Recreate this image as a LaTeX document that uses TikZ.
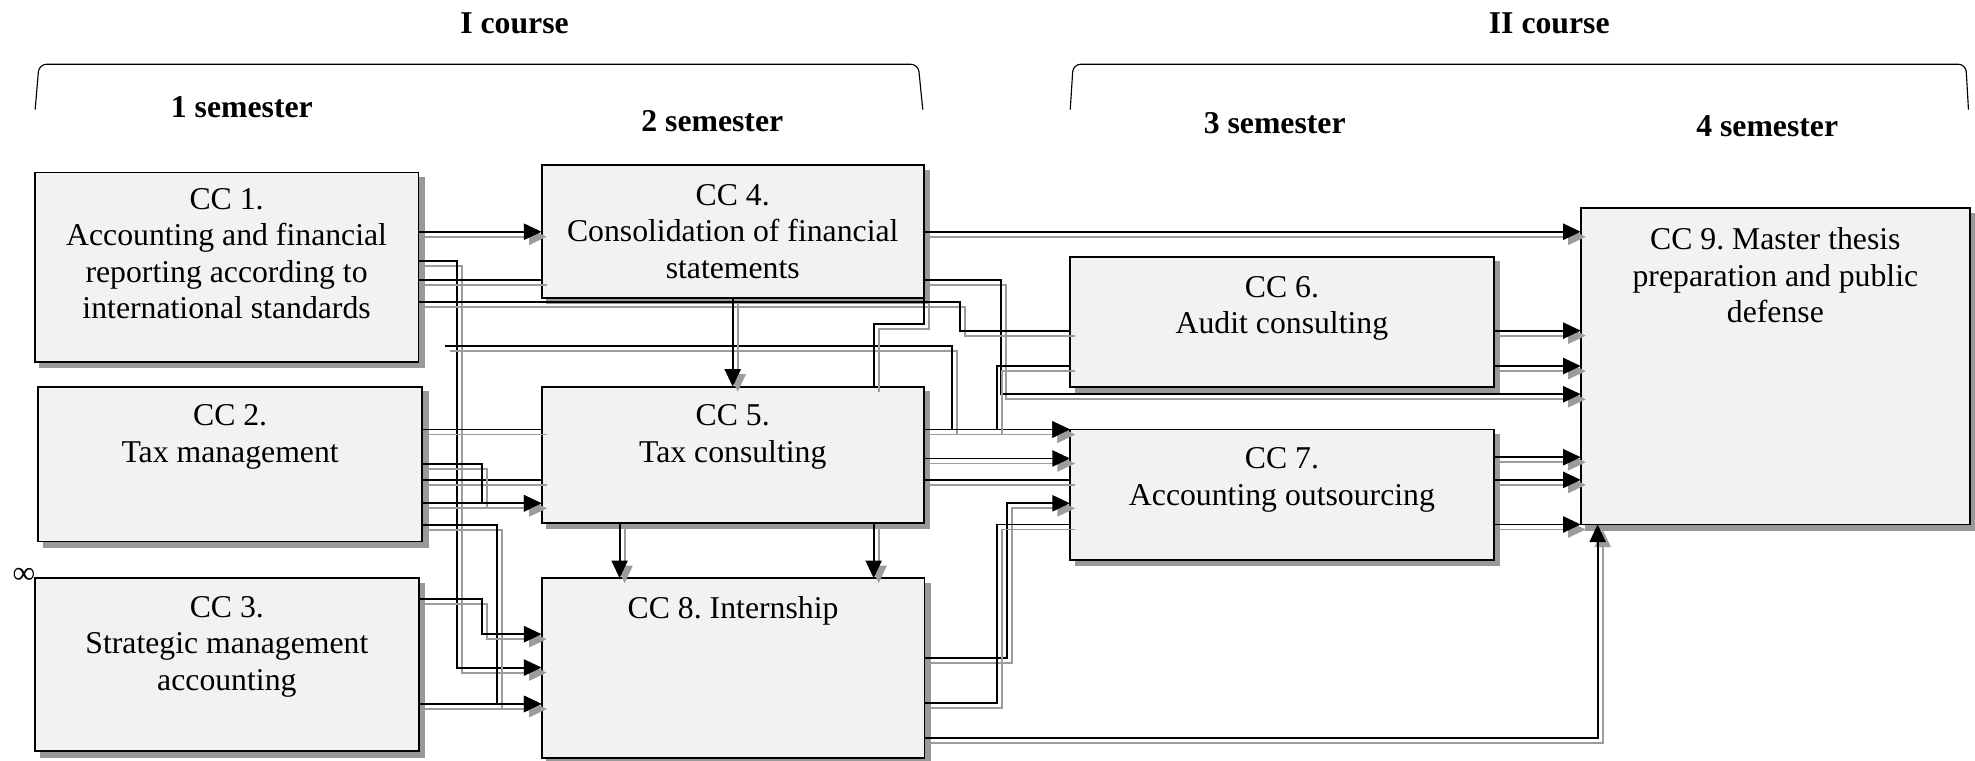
\documentclass[tikz,border=0pt]{standalone}
\usepackage{fontspec}
\setmainfont{Liberation Serif}
\usetikzlibrary{arrows.meta}
\definecolor{boxfill}{HTML}{F2F2F2}
\definecolor{boxshadow}{HTML}{999999}
\definecolor{lineshadow}{HTML}{9C9C9C}
\tikzset{
  ccbox/.style={draw=black, line width=0.7pt, fill=boxfill, inner sep=0pt, outer sep=0pt, anchor=north west,
     preaction={fill=boxshadow, draw=boxshadow, transform canvas={shift={(2.2pt,-2.2pt)}}}},
  cctext/.style={anchor=north, align=center, inner sep=0pt, font=\fontsize{12.6pt}{14.5pt}\selectfont\frenchspacing},
  head/.style={inner sep=0pt, font=\fontsize{12.6pt}{14.5pt}\selectfont\bfseries},
  conn/.style={draw=black, line width=0.75pt,
     preaction={draw=lineshadow, line width=0.75pt, transform canvas={shift={(2pt,-2pt)}}}},
  arr/.style={draw=black, line width=0.75pt, -{Triangle[length=7pt,width=6.4pt]},
     preaction={draw=lineshadow, line width=0.75pt, -{Triangle[length=7pt,width=6.4pt]}, transform canvas={shift={(2pt,-2pt)}}}},
  brace/.style={draw=black, line width=0.45pt, rounded corners=3pt},
}
\begin{document}
\begin{tikzpicture}[x=0.5pt, y=-0.5pt]
\useasboundingbox (0,0) rectangle (1568,603.4);

% headers
\node[head] (h1) at (408.5,18.5) {I course};
\node[head] (h2) at (1230,18.5) {II course};
\node[head] (s1) at (192,84.7) {1 semester};
\node[head] (s2) at (565.5,96) {2 semester};
\node[head] (s3) at (1012,97.5) {3 semester};
\node[head] (s4) at (1403,100) {4 semester};
\draw[brace] (27.9,87) -- (31,51) -- (729,51) -- (732.6,87);
\draw[brace] (849.7,87) -- (852,51) -- (1560.7,51) -- (1562.8,87);

% boxes
\node[ccbox, minimum width=152.4pt, minimum height=75.15pt] (cc1) at (27.5,137) {};
\node[ccbox, minimum width=152.4pt, minimum height=61.5pt] (cc2) at (30.3,307) {};
\node[ccbox, minimum width=152.4pt, minimum height=68.65pt] (cc3) at (27.7,459) {};
\node[ccbox, minimum width=151.75pt, minimum height=52.75pt] (cc4) at (430,131) {};
\node[ccbox, minimum width=151.75pt, minimum height=54pt] (cc5) at (430,307) {};
\node[ccbox, minimum width=152pt, minimum height=71.5pt] (cc8) at (430,459) {};
\node[ccbox, minimum width=168.25pt, minimum height=51.6pt] (cc6) at (849.5,203.8) {};
\node[ccbox, minimum width=168.25pt, minimum height=51.8pt] (cc7) at (849.5,341) {};
\node[ccbox, minimum width=154.5pt, minimum height=125.5pt] (cc9) at (1255,165.4) {};

\node[cctext, yshift=-6pt] (t1) at (cc1.north) {CC 1.\\Accounting and financial\\reporting according to\\international standards};
\node[cctext, yshift=-7pt] (t2) at (cc2.north) {CC 2.\\Tax management};
\node[cctext, yshift=-7pt] (t3) at (cc3.north) {CC 3.\\Strategic management\\accounting};
\node[cctext, yshift=-7.5pt] (t4) at (cc4.north) {CC 4.\\Consolidation of financial\\statements};
\node[cctext, yshift=-7pt] (t5) at (cc5.north) {CC 5.\\Tax consulting};
\node[cctext, yshift=-7pt] (t8) at (cc8.north) {CC 8. Internship};
\node[cctext, yshift=-7.5pt] (t6) at (cc6.north) {CC 6.\\Audit consulting};
\node[cctext, yshift=-7pt] (t7) at (cc7.north) {CC 7.\\Accounting outsourcing};
\node[cctext, yshift=-7.5pt] (t9) at (cc9.north) {CC 9. Master thesis\\preparation and public\\defense};

\node[inner sep=0pt, font=\fontsize{12.6pt}{14.5pt}\selectfont] (inf) at (19,457) {∞};

\coordinate (s6) at (353,275);
\coordinate (j8) at (791.8,341);

% connectors
\draw[arr] (cc1.east|-0,184) -- (cc4.west|-0,184);
\draw[arr] (cc4.east|-0,184) -- (cc9.west|-0,184);
\draw[arr] (cc1.east|-0,207) -- (363,207) -- (363,530) -- (cc8.west|-0,530);
\draw[conn] (cc1.east|-0,222) -- (cc4.west|-0,222);
\draw[arr] (cc4.east|-0,222) -- (794.4,222) -- (794.4,313) -- (cc9.west|-0,313);
\draw[conn] (cc1.east|-0,239.5) -- (762,239.5) -- (762,262.5) -- (cc6.west|-0,262.5);
\draw[arr] (cc6.east|-0,262.5) -- (cc9.west|-0,262.5);
\draw[arr] (s6) -- (755.5,275) -- (755.5,341) -- (cc7.west|-0,341);
\draw[conn] (cc2.east|-0,341) -- (cc5.west|-0,341);
\draw[arr] (cc5.east|-0,341) -- (cc7.west|-0,341);
\draw[conn] (cc6.west|-0,290.6) -- (791.8,290.6) -- (j8);
\draw[arr] (cc6.east|-0,290.6) -- (cc9.west|-0,290.6);
\draw[arr] (cc5.east|-0,364) -- (cc7.west|-0,364);
\draw[conn] (cc2.east|-0,381) -- (cc5.west|-0,381);
\draw[conn] (cc5.east|-0,381) -- (cc7.west|-0,381);
\draw[arr] (cc7.east|-0,381) -- (cc9.west|-0,381);
\draw[arr] (cc7.east|-0,363) -- (cc9.west|-0,363);
\draw[arr] (cc2.east|-0,368.6) -- (382.4,368.6) -- (382.4,399.6) -- (cc5.west|-0,399.6);
\draw[arr] (cc2.east|-0,399.6) -- (cc5.west|-0,399.6);
\draw[arr] (cc2.east|-0,416.8) -- (394.3,416.8) -- (394.3,558.9) -- (cc8.west|-0,558.9);
\draw[arr] (cc3.east|-0,475.6) -- (382.4,475.6) -- (382.4,503.5) -- (cc8.west|-0,503.5);
\draw[arr] (cc3.east|-0,558.9) -- (cc8.west|-0,558.9);
\draw[arr] (cc4.south-|581.7,0) -- (cc5.north-|581.7,0);
\draw[arr] (cc5.south-|491.9,0) -- (cc8.north-|491.9,0);
\draw[arr] (cc5.south-|693.6,0) -- (cc8.north-|693.6,0);
\draw[conn] (cc5.north-|693.6,0) -- (693.6,257) -- (cc4.east|-0,257) -- (cc4.south east);
\draw[arr] (cc8.east|-0,522.6) -- (799.2,522.6) -- (799.2,399.6) -- (cc7.west|-0,399.6);
\draw[conn] (cc8.east|-0,558.4) -- (791.8,558.4) -- (791.8,416.4) -- (cc7.west|-0,416.4);
\draw[arr] (cc7.east|-0,416.4) -- (cc9.west|-0,416.4);
\draw[arr] (cc8.east|-0,586.2) -- (1268.4,586.2) -- (cc9.south-|1268.4,0);
\end{tikzpicture}
\end{document}
